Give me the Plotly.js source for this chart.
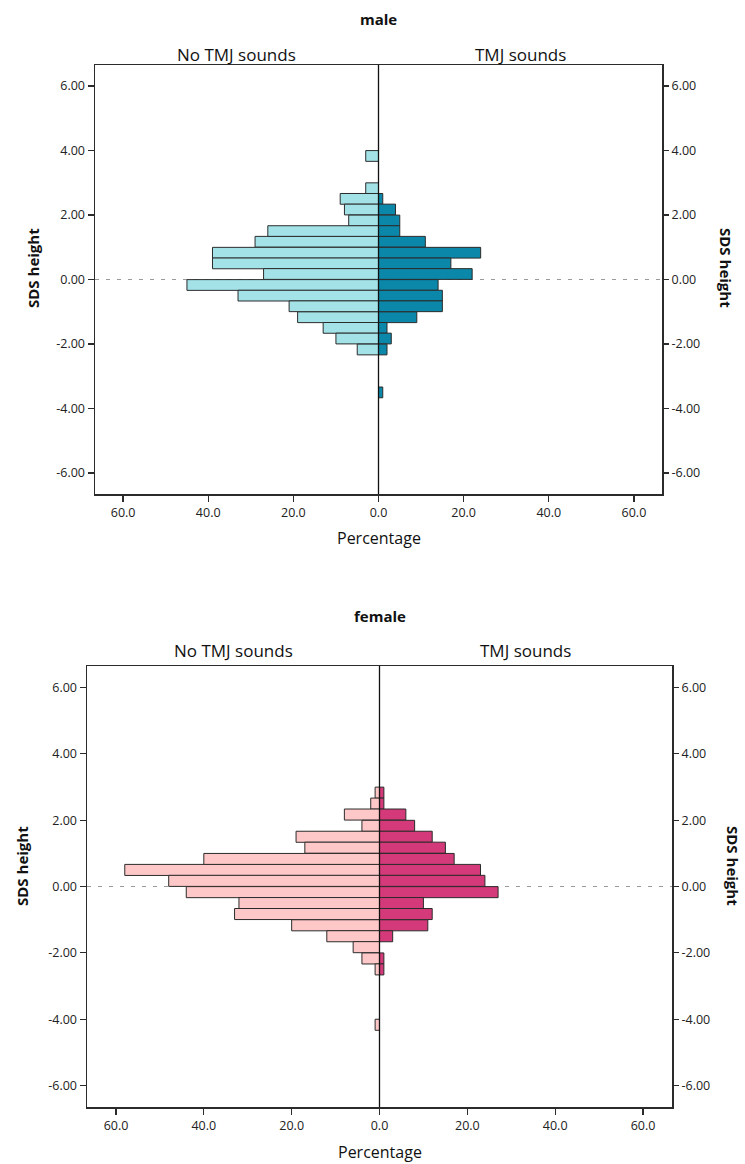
<!DOCTYPE html>
<html>
<head>
<meta charset="utf-8">
<script src="https://cdn.plot.ly/plotly-3.0.1.min.js"></script>
<style>html,body{margin:0;padding:0;background:#fff;}#chart{width:745px;height:1164px;}</style>
</head>
<body>
<div id="chart"></div>
<script>
// SDS height bins (bin centres, bin width 1/3 SDS)
var sdsBins = [3.83, 3.5, 3.17, 2.83, 2.5, 2.17, 1.83, 1.5, 1.17, 0.83, 0.5, 0.17,
               -0.17, -0.5, -0.83, -1.17, -1.5, -1.83, -2.17, -2.5, -2.83, -3.17, -3.5, -3.83, -4.17];

// male
var maleNoSounds = [3, null, null, 3, 9, 8, 7, 26, 29, 39, 39, 27,
                    45, 33, 21, 19, 13, 10, 5, null, null, null, null, null, null];
var maleSounds   = [null, null, null, null, 1, 4, 5, 5, 11, 24, 17, 22,
                    14, 15, 15, 9, 2, 3, 2, null, null, null, 1, null, null];
// female
var femaleNoSounds = [null, null, null, 1, 2, 8, 4, 19, 17, 40, 58, 48,
                      44, 32, 33, 20, 12, 6, 4, 1, null, null, null, null, 1];
var femaleSounds   = [null, null, null, 1, 1, 6, 8, 12, 15, 17, 23, 24,
                      27, 10, 12, 11, 3, null, 1, 1, null, null, null, null, null];

var panelTitles = ['male', 'female'];
var groupLabels = ['No TMJ sounds', 'TMJ sounds'];
var yTickVals = [-6, -4, -2, 0, 2, 4, 6];
var yTickText = ['-6.00', '-4.00', '-2.00', '0.00', '2.00', '4.00', '6.00'];
var xTickVals = [-60, -40, -20, 0, 20, 40, 60];
var xTickText = ['60.0', '40.0', '20.0', '0.0', '20.0', '40.0', '60.0'];

var W = 745, H = 1164;
var FONT = 'Open Sans, Liberation Sans, sans-serif';
var EDGE = '#2b2b2b';
function neg(a){ return a.map(function(v){ return v === null ? null : -v; }); }
function py(pix){ return 1 - pix / H; }

function barTrace(vals, color, xa, ya){
  return {type:'bar', orientation:'h', y:sdsBins, x:vals, base:0, width:0.3333,
    xaxis:xa, yaxis:ya, showlegend:false, hoverinfo:'skip',
    marker:{color:color, line:{color:EDGE, width:1}}};
}

var data = [
  barTrace(neg(maleNoSounds), '#a3e3e8', 'x', 'y'),
  barTrace(maleSounds, '#0b87a9', 'x', 'y'),
  barTrace(neg(femaleNoSounds), '#ffc8c8', 'x2', 'y2'),
  barTrace(femaleSounds, '#d43a79', 'x2', 'y2'),
  {type:'scatter', x:[0], y:[0], xaxis:'x', yaxis:'y3', mode:'markers', marker:{opacity:0}, showlegend:false, hoverinfo:'skip'},
  {type:'scatter', x:[0], y:[0], xaxis:'x2', yaxis:'y4', mode:'markers', marker:{opacity:0}, showlegend:false, hoverinfo:'skip'}
];

// panel frames (pixels)
var P = [
  {l:95, r:662, t:65, b:494, title:19, head:54, tick:510, xt:538, ylab:268, yl:33, yr:726},
  {l:87, r:672, t:666, b:1107, title:616, head:650, tick:1126, xt:1152, ylab:866, yl:22, yr:733}
];
var XR = [-66.6, 66.6], YR = [-6.65, 6.65];

function xAxis(p, anchor){
  return {domain:[p.l/W, p.r/W], range:XR, anchor:anchor, fixedrange:true,
    tickvals:xTickVals, ticktext:xTickText, ticks:'outside', ticklen:6, tickwidth:1.2, tickcolor:EDGE,
    showline:true, mirror:true, linecolor:EDGE, linewidth:1.5, showgrid:false, zeroline:false,
    tickfont:{family:FONT, size:12.5, color:'#222'}};
}
function yAxis(p, anchor){
  return {domain:[py(p.b), py(p.t)], range:YR, anchor:anchor, fixedrange:true,
    tickvals:yTickVals, ticktext:yTickText, ticks:'outside', ticklen:6, tickwidth:1.2, tickcolor:EDGE,
    showline:true, mirror:true, linecolor:EDGE, linewidth:1.5, showgrid:false, zeroline:false,
    tickfont:{family:FONT, size:12.5, color:'#222'}};
}
function yAxisR(p, anchor, over){
  return {domain:[py(p.b), py(p.t)], range:YR, anchor:anchor, overlaying:over, side:'right', fixedrange:true,
    tickvals:yTickVals, ticktext:yTickText, ticks:'outside', ticklen:6, tickwidth:1.2, tickcolor:EDGE,
    showline:false, showgrid:false, zeroline:false,
    tickfont:{family:FONT, size:12.5, color:'#222'}};
}

var annotations = [], shapes = [];
P.forEach(function(p, i){
  var xa = i === 0 ? 'x' : 'x2', ya = i === 0 ? 'y' : 'y2';
  annotations.push({text:'<b>' + panelTitles[i] + '</b>', xref:'paper', yref:'paper', x:((p.l+p.r)/2)/W, y:py(p.title),
    xanchor:'center', yanchor:'middle', showarrow:false, font:{family:FONT, size:15, color:'#111'}});
  annotations.push({text:groupLabels[0], xref:xa, yref:'paper', x:-33.3, y:py(p.head),
    xanchor:'center', yanchor:'middle', showarrow:false, font:{family:FONT, size:17, color:'#111'}});
  annotations.push({text:groupLabels[1], xref:xa, yref:'paper', x:33.3, y:py(p.head),
    xanchor:'center', yanchor:'middle', showarrow:false, font:{family:FONT, size:17, color:'#111'}});
  annotations.push({text:'Percentage', xref:xa, yref:'paper', x:0, y:py(p.xt),
    xanchor:'center', yanchor:'middle', showarrow:false, font:{family:FONT, size:16, color:'#111'}});
  annotations.push({text:'<b>SDS height</b>', xref:'paper', yref:'paper', x:p.yl/W, y:py(p.ylab),
    xanchor:'center', yanchor:'middle', textangle:-90, showarrow:false, font:{family:FONT, size:15, color:'#111'}});
  annotations.push({text:'<b>SDS height</b>', xref:'paper', yref:'paper', x:p.yr/W, y:py(p.ylab),
    xanchor:'center', yanchor:'middle', textangle:90, showarrow:false, font:{family:FONT, size:15, color:'#111'}});
  shapes.push({type:'line', xref:xa + ' domain', yref:ya, x0:0, x1:1, y0:0, y1:0, layer:'below',
    line:{color:'#9a9a9a', width:1.2, dash:'4px,7px'}});
  shapes.push({type:'line', xref:xa, yref:ya + ' domain', x0:0, x1:0, y0:0, y1:1, layer:'above',
    line:{color:'#111', width:1.3}});
});

var layout = {
  width:W, height:H, autosize:false, margin:{l:0, r:0, t:0, b:0},
  paper_bgcolor:'#fff', plot_bgcolor:'#fff', barmode:'overlay', showlegend:false,
  font:{family:FONT, color:'#222'},
  xaxis:xAxis(P[0], 'y'), yaxis:yAxis(P[0], 'x'), yaxis3:yAxisR(P[0], 'x', 'y'),
  xaxis2:xAxis(P[1], 'y2'), yaxis2:yAxis(P[1], 'x2'), yaxis4:yAxisR(P[1], 'x2', 'y2'),
  annotations:annotations, shapes:shapes
};

Plotly.newPlot('chart', data, layout, {staticPlot:true, displayModeBar:false});
</script>
</body>
</html>
